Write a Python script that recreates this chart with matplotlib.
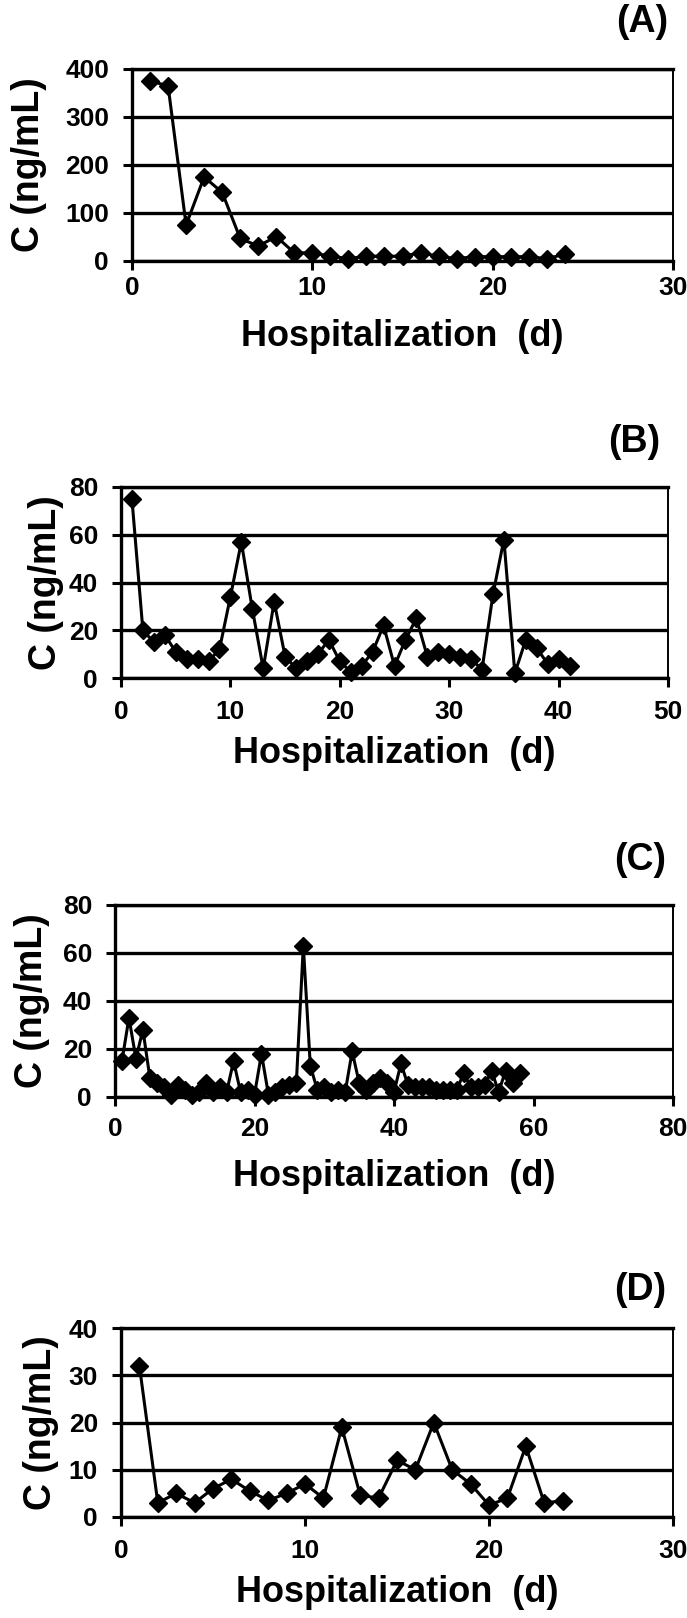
import matplotlib
matplotlib.use("Agg")
import matplotlib.pyplot as plt


plt.rcParams["font.family"] = ["Liberation Sans", "DejaVu Sans"]
plt.rcParams["font.weight"] = "bold"

FIG_W, FIG_H = 687, 1618

# panel data (day of hospitalization, concentration in ng/mL)
days_a = list(range(1, 25))
conc_a = [375, 365, 75, 175, 143, 47, 31, 51, 17, 17, 10, 5, 10, 10, 10, 17,
          10, 5, 9, 9, 9, 9, 5, 14]

days_b = list(range(1, 42))
conc_b = [75, 20, 15, 18, 11, 8, 8, 7, 12, 34, 57, 29, 4, 32, 9, 4, 7, 10, 16, 7,
          2.5, 5, 11, 22, 5, 16, 25, 9, 11, 10, 9, 8, 3.5, 35, 58, 2, 16, 12.5, 6, 8, 5]

days_c = list(range(1, 59))
conc_c = [15, 33, 16, 28, 8, 6, 4, 1, 5, 3,
          1, 2, 6, 2, 4, 2, 15, 2, 3, 1,
          18, 1, 2, 4, 5, 6, 63, 13, 3, 4,
          2, 3, 2, 19, 6, 3, 6, 8, 6, 2,
          14, 5, 4, 4, 4, 3, 3, 3, 3, 10,
          4, 4, 5, 11, 2, 11, 6, 10]

days_d = list(range(1, 25))
conc_d = [32, 3, 5, 3, 6, 8, 5.5, 3.5, 5, 7, 4, 19, 4.6, 4, 12, 10, 20, 10, 7,
          2.5, 4, 15, 3, 3.4]

tags = ["(A)", "(B)", "(C)", "(D)"]
x_limits = [30, 50, 80, 30]
x_steps = [10, 10, 20, 10]
y_limits = [400, 80, 80, 40]
y_steps = [100, 20, 20, 10]

# layout in pixels: left, right, top, bottom of plot area
boxes = [(132, 673, 69, 261), (121, 668, 487, 678),
         (115, 673, 905, 1097), (121, 673, 1328, 1517)]
tag_pos = [(642, 22), (634, 442), (640, 860), (640, 1290)]
ylabel_x = [29, 46, 32, 41]
xlabel_y = [336, 753, 1177, 1592]
xtick_pad = [4, 9, 8, 9]

fig = plt.figure(figsize=(FIG_W / 100, FIG_H / 100), dpi=100)

series = [(days_a, conc_a), (days_b, conc_b), (days_c, conc_c), (days_d, conc_d)]

for i, (days, conc) in enumerate(series):
    left, right, top, bottom = boxes[i]
    ax = fig.add_axes([left / FIG_W, 1 - bottom / FIG_H,
                       (right - left) / FIG_W, (bottom - top) / FIG_H])

    ax.plot(days, conc, color="black", linewidth=2.2, marker="D",
            markersize=9, markerfacecolor="black", markeredgecolor="black",
            zorder=3, clip_on=False)

    ax.set_xlim(0, x_limits[i])
    ax.set_ylim(0, y_limits[i])
    ax.set_xticks(range(0, x_limits[i] + 1, x_steps[i]))
    ax.set_yticks(range(0, y_limits[i] + 1, y_steps[i]))

    ax.yaxis.grid(True, color="black", linewidth=2.4)
    for name in ["left", "bottom", "top"]:
        ax.spines[name].set_linewidth(2.4)
        ax.spines[name].set_color("black")
    ax.spines["right"].set_linewidth(1.4)

    ax.tick_params(axis="both", direction="out", length=6.5, width=2.2,
                   labelsize=19)
    ax.tick_params(axis="y", pad=10)
    ax.tick_params(axis="x", pad=xtick_pad[i])
    for lab in ax.get_xticklabels() + ax.get_yticklabels():
        lab.set_fontweight("bold")

    h = bottom - top
    w = right - left
    ax.set_ylabel("C (ng/mL)", fontsize=27, fontweight="bold")
    ax.yaxis.set_label_coords((ylabel_x[i] - left) / w, 0.5)
    ax.yaxis.label.set_va("center")

    ax.set_xlabel("Hospitalization  (d)", fontsize=26, fontweight="bold")
    ax.xaxis.set_label_coords(0.5, -(xlabel_y[i] - bottom) / h)
    ax.xaxis.label.set_va("center")

    fig.text(tag_pos[i][0] / FIG_W, 1 - tag_pos[i][1] / FIG_H, tags[i],
             fontsize=27, fontweight="bold", ha="center", va="center")

fig.savefig("out.png", dpi=100)
